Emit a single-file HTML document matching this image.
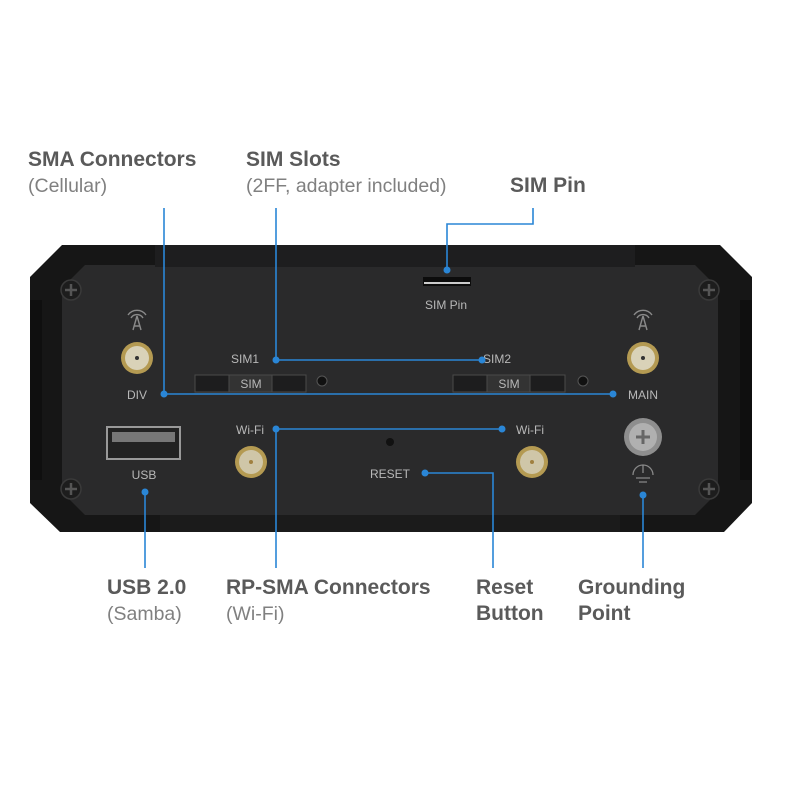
<!DOCTYPE html>
<html><head><meta charset="utf-8"><style>
html,body{margin:0;padding:0;background:#fff;}
svg{display:block;}
.t{font-family:"Liberation Sans",sans-serif;font-size:21px;font-weight:bold;fill:#5a5a5a;}
.s{font-family:"Liberation Sans",sans-serif;font-size:19.5px;fill:#808080;}
.l{font-family:"Liberation Sans",sans-serif;font-size:12px;fill:#b8b8b8;}
</style></head><body>
<svg width="800" height="800" viewBox="0 0 800 800" xmlns="http://www.w3.org/2000/svg">
<rect width="800" height="800" fill="#fff"/>
<text class="t" x="28" y="166">SMA Connectors</text>
<text class="s" x="28" y="192">(Cellular)</text>
<text class="t" x="246" y="166">SIM Slots</text>
<text class="s" x="246" y="192">(2FF, adapter included)</text>
<text class="t" x="510" y="192">SIM Pin</text>
<text class="t" x="107" y="594">USB 2.0</text>
<text class="s" x="107" y="620">(Samba)</text>
<text class="t" x="226" y="594">RP-SMA Connectors</text>
<text class="s" x="226" y="620">(Wi-Fi)</text>
<text class="t" x="476" y="594">Reset</text>
<text class="t" x="476" y="620">Button</text>
<text class="t" x="578" y="594">Grounding</text>
<text class="t" x="578" y="620">Point</text>
<polygon points="62,245 720,245 752,277 752,503 724,532 60,532 30,503 30,277" fill="#161616"/>
<polygon points="85,265 695,265 718,288 718,492 695,515 85,515 62,492 62,288" fill="#2a2a2b"/>
<rect x="155" y="245" width="480" height="22" fill="#1e1e1f"/>
<rect x="160" y="515" width="460" height="17" fill="#1b1b1b"/>
<rect x="30" y="300" width="12" height="180" fill="#0f0f0f"/>
<rect x="740" y="300" width="12" height="180" fill="#0f0f0f"/>
<g fill="#1d1d1d" stroke="#3a3a3a" stroke-width="1.5">
<circle cx="71" cy="290" r="10"/><circle cx="71" cy="489" r="10"/>
<circle cx="709" cy="290" r="10"/><circle cx="709" cy="489" r="10"/>
</g>
<g stroke="#555" stroke-width="2.5">
<path d="M65 290h12M71 284v12M65 489h12M71 483v12M703 290h12M709 284v12M703 489h12M709 483v12"/>
</g>
<g stroke="#8a8a8a" stroke-width="1.4" fill="none">
<path d="M137 316l-4 14M137 316l4 14M134 326h6"/><path d="M131 318a7 7 0 0 1 12 0M128 315a11 11 0 0 1 18 0"/>
<path d="M643 316l-4 14M643 316l4 14M640 326h6"/><path d="M637 318a7 7 0 0 1 12 0M634 315a11 11 0 0 1 18 0"/>
</g>
<g>
<circle cx="137" cy="358" r="16" fill="#b49a52"/><circle cx="137" cy="358" r="12" fill="#d9d2b8"/><circle cx="137" cy="358" r="2" fill="#333"/>
<circle cx="643" cy="358" r="16" fill="#b49a52"/><circle cx="643" cy="358" r="12" fill="#d9d2b8"/><circle cx="643" cy="358" r="2" fill="#333"/>
<circle cx="251" cy="462" r="16" fill="#b49a52"/><circle cx="251" cy="462" r="12" fill="#cfc6a8"/><circle cx="251" cy="462" r="2" fill="#a08040"/>
<circle cx="532" cy="462" r="16" fill="#b49a52"/><circle cx="532" cy="462" r="12" fill="#cfc6a8"/><circle cx="532" cy="462" r="2" fill="#a08040"/>
</g>
<circle cx="643" cy="437" r="19" fill="#8e8e8e"/><circle cx="643" cy="437" r="14" fill="#b0b0b0"/>
<path d="M636 437h14M643 430v14" stroke="#666" stroke-width="3"/>
<g stroke="#888" stroke-width="1.3" fill="none"><path d="M643 465v8M633 475a10 10 0 0 1 20 0M636 478h14M639 482h8"/></g>
<g fill="#1d1d1e" stroke="#4a4a4a" stroke-width="1">
<rect x="195" y="375" width="111" height="17"/><rect x="229" y="375" width="43" height="17" fill="#333"/>
<rect x="453" y="375" width="112" height="17"/><rect x="487" y="375" width="43" height="17" fill="#333"/>
</g>
<circle cx="322" cy="381" r="5" fill="#111" stroke="#555"/><circle cx="583" cy="381" r="5" fill="#111" stroke="#555"/>
<circle cx="390" cy="442" r="4" fill="#111"/>
<rect x="423" y="277" width="48" height="9" fill="#0c0c0c"/><rect x="424" y="282" width="46" height="2" fill="#ccc"/>
<rect x="107" y="427" width="73" height="32" fill="#222" stroke="#999" stroke-width="2"/>
<rect x="112" y="432" width="63" height="10" fill="#777"/>
<text class="l" x="446" y="309" text-anchor="middle">SIM Pin</text>
<text class="l" x="245" y="363" text-anchor="middle">SIM1</text>
<text class="l" x="251" y="388" text-anchor="middle" font-size="10">SIM</text>
<text class="l" x="497" y="363" text-anchor="middle">SIM2</text>
<text class="l" x="509" y="388" text-anchor="middle" font-size="10">SIM</text>
<text class="l" x="137" y="399" text-anchor="middle" fill="#888">DIV</text>
<text class="l" x="643" y="399" text-anchor="middle">MAIN</text>
<text class="l" x="250" y="434" text-anchor="middle">Wi-Fi</text>
<text class="l" x="530" y="434" text-anchor="middle">Wi-Fi</text>
<text class="l" x="144" y="479" text-anchor="middle" fill="#777">USB</text>
<text class="l" x="390" y="478" text-anchor="middle" fill="#999">RESET</text>
<g stroke="#2a86d6" stroke-width="1.6" fill="none">
<path d="M164 208V394H613"/>
<path d="M276 208V360H482"/>
<path d="M533 208V224H447V270"/>
<path d="M276 568V429H502"/>
<path d="M145 492V568"/>
<path d="M425 473H493V568"/>
<path d="M643 495V568"/>
</g>
<g fill="#2a86d6">
<circle cx="164" cy="394" r="3.5"/><circle cx="613" cy="394" r="3.5"/>
<circle cx="276" cy="360" r="3.5"/><circle cx="482" cy="360" r="3.5"/>
<circle cx="447" cy="270" r="3.5"/>
<circle cx="276" cy="429" r="3.5"/><circle cx="502" cy="429" r="3.5"/>
<circle cx="145" cy="492" r="3.5"/><circle cx="425" cy="473" r="3.5"/><circle cx="643" cy="495" r="3.5"/>
</g>
</svg>
</body></html>
